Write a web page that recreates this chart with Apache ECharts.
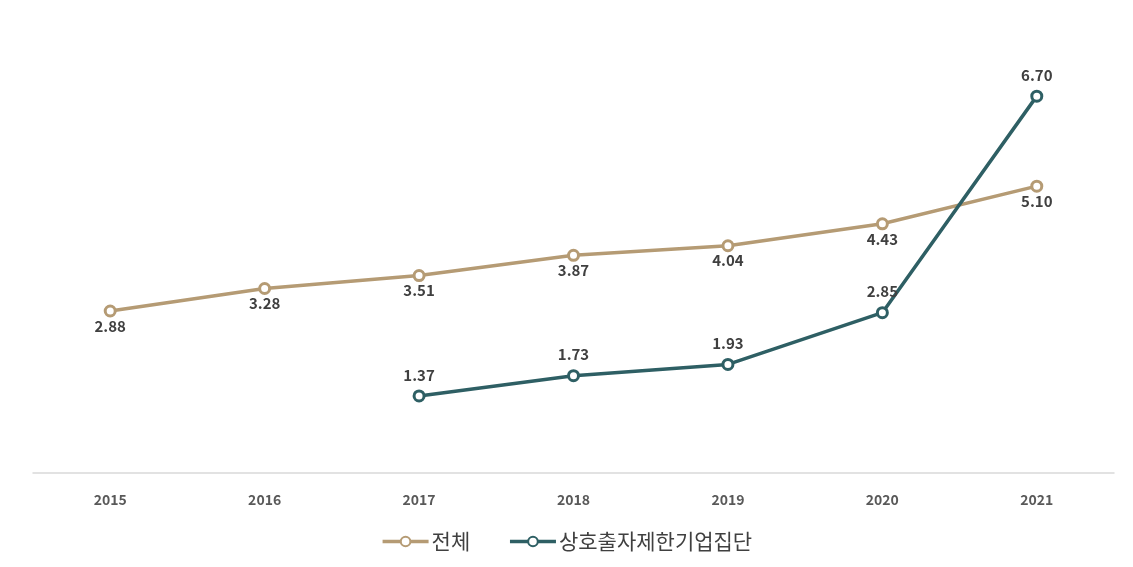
<!DOCTYPE html>
<html><head><meta charset="utf-8">
<script src="https://cdn.jsdelivr.net/npm/echarts@6/dist/echarts.min.js"></script>
<style>html,body{margin:0;padding:0;background:#fff}#c{width:1133px;height:567px}</style>
</head><body><div id="c"></div>
<script>
const categories = ['2015','2016','2017','2018','2019','2020','2021'];
const totalValues = [2.88, 3.28, 3.51, 3.87, 4.04, 4.43, 5.10];
const groupValues = [null, null, 1.37, 1.73, 1.93, 2.85, 6.70];
const seriesNames = ['전체', '상호출자제한기업집단'];

const chart = echarts.init(document.getElementById('c'));
const font = "'Noto Sans CJK KR','Noto Sans',sans-serif";
function mk(name, data, color, pos, dist) {
  return {
    name, type: 'line', data,
    symbol: 'circle', symbolSize: 10,
    lineStyle: {color, width: 3.5},
    itemStyle: {color: '#fff', borderColor: color, borderWidth: 3},
    label: {show: true, position: pos, distance: dist, color: '#404040', fontSize: 15, fontWeight: 'bold', fontFamily: font,
      formatter: p => p.value == null ? '' : Number(p.value).toFixed(2)},
    connectNulls: false, z: 3
  };
}
chart.setOption({
  animation: false,
  grid: {left: 33, right: 19, top: 23, bottom: 94},
  legend: {bottom: 10, left: 'center', itemWidth: 46, itemHeight: 12, itemGap: 38,
    lineStyle: {width: 3.5},
    textStyle: {color: '#404040', fontSize: 21, fontFamily: font, padding: [0, 0, 0, -2]},
    data: seriesNames},
  xAxis: {type: 'category', data: categories, boundaryGap: true,
    axisLine: {lineStyle: {color: '#d9d9d9', width: 1.5}},
    axisTick: {show: false},
    axisLabel: {color: '#595959', fontSize: 14, fontWeight: 'bold', margin: 20, fontFamily: font}},
  yAxis: {type: 'value', min: 0, max: 8, show: false, splitLine: {show: false}},
  series: [
    mk(seriesNames[0], totalValues, '#b59b74', 'bottom', 1),
    mk(seriesNames[1], groupValues, '#2e5f64', 'top', 7)
  ]
});
</script></body></html>
